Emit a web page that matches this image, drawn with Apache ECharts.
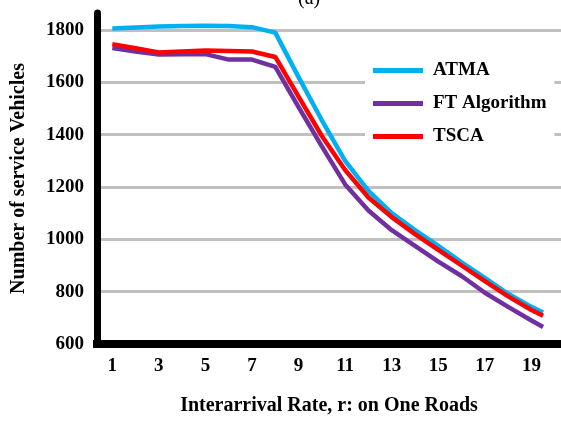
<!DOCTYPE html>
<html>
<head>
<meta charset="utf-8">
<script src="https://cdn.jsdelivr.net/npm/echarts@6/dist/echarts.min.js"></script>
<style>
html,body{margin:0;padding:0;background:#fff;}
#chart{width:561px;height:421px;}
</style>
</head>
<body>
<div id="chart"></div>
<script>
// Data
var xValues = [1, 2, 3, 4, 5, 6, 7, 8, 9, 10, 11, 12, 13, 14, 15, 16, 17, 18, 19, 19.5];
var atma = [1806, 1810, 1813, 1815, 1816, 1815, 1811, 1790, 1620, 1455, 1300, 1185, 1100, 1035, 975, 912, 853, 792, 742, 720];
var ftAlgorithm = [1731, 1718, 1706, 1707, 1708, 1687, 1687, 1659, 1505, 1355, 1210, 1110, 1035, 975, 915, 860, 796, 742, 690, 665];
var tsca = [1746, 1730, 1714, 1718, 1722, 1720, 1718, 1697, 1545, 1395, 1265, 1160, 1085, 1020, 960, 900, 840, 782, 730, 708];
var seriesNames = ['ATMA', 'FT Algorithm', 'TSCA'];
var xTickLabels = [1, 3, 5, 7, 9, 11, 13, 15, 17, 19];
var yTickLabels = [600, 800, 1000, 1200, 1400, 1600, 1800];

function zip(xs, ys) { return xs.map(function (x, i) { return [x, ys[i]]; }); }
function plain(v) { return String(Math.round(v)); }

var FONT = 'Liberation Serif';
var colors = ['#00b0f0', '#7030a0', '#ff0000'];
var values = [atma, ftAlgorithm, tsca];
var X_MIN = 0.343, X_MAX = 20.27, Y_MIN = 600, Y_MAX = 1865;

var chart = echarts.init(document.getElementById('chart'), null, {renderer: 'canvas'});
chart.setOption({
  animation: false,
  backgroundColor: '#fff',
  title: {
    text: '(a)', left: 293, top: -16,
    textStyle: {fontFamily: FONT, fontSize: 20, fontWeight: 'normal', color: '#000'}
  },
  grid: {left: 97, right: 0, top: 13, bottom: 76},
  legend: {
    orient: 'vertical', left: 365, top: 51,
    backgroundColor: '#fff', padding: [10, 8],
    icon: 'rect', itemWidth: 50, itemHeight: 5, itemGap: 14,
    textStyle: {fontFamily: FONT, fontSize: 19, fontWeight: 'bold', color: '#000', padding: [0, 0, 0, 5]},
    data: seriesNames
  },
  xAxis: {
    type: 'value', min: X_MIN, max: X_MAX,
    name: 'Interarrival Rate, r: on One Roads',
    nameLocation: 'middle', nameGap: 52,
    nameTextStyle: {fontFamily: FONT, fontSize: 20, fontWeight: 'bold', color: '#000'},
    axisLine: {show: true, lineStyle: {color: '#000', width: 8, cap: 'square'}},
    axisTick: {show: false},
    splitLine: {show: false},
    axisLabel: {show: false}
  },
  yAxis: {
    type: 'value', min: Y_MIN, max: Y_MAX, interval: 200,
    name: 'Number of service Vehicles',
    nameLocation: 'middle', nameGap: 68,
    nameTextStyle: {fontFamily: FONT, fontSize: 20, fontWeight: 'bold', color: '#000'},
    axisLine: {show: true, lineStyle: {color: '#000', width: 7}},
    axisTick: {show: false},
    splitLine: {show: true, showMaxLine: false, showMinLine: false, lineStyle: {color: '#c0c0c0', width: 3}},
    axisLabel: {
      customValues: yTickLabels, margin: 13, formatter: plain,
      fontFamily: FONT, fontSize: 19, fontWeight: 'bold', color: '#000'
    }
  },
  series: seriesNames.map(function (name, i) {
    return {
      name: name, type: 'line', symbol: 'none', smooth: false,
      color: colors[i],
      lineStyle: {color: colors[i], width: 4.5, join: 'round'},
      data: zip(xValues, values[i])
    };
  })
});

// x tick labels placed through the x axis scale
var labelGraphics = xTickLabels.map(function (v) {
  var p = chart.convertToPixel({xAxisIndex: 0, yAxisIndex: 0}, [v, Y_MIN]);
  return {
    type: 'text', x: p[0], y: p[1] + 13, silent: true,
    style: {
      text: plain(v), fill: '#000', align: 'center', verticalAlign: 'top',
      font: 'bold 19px "Liberation Serif"'
    }
  };
});
chart.setOption({graphic: {elements: labelGraphics}});
</script>
</body>
</html>
